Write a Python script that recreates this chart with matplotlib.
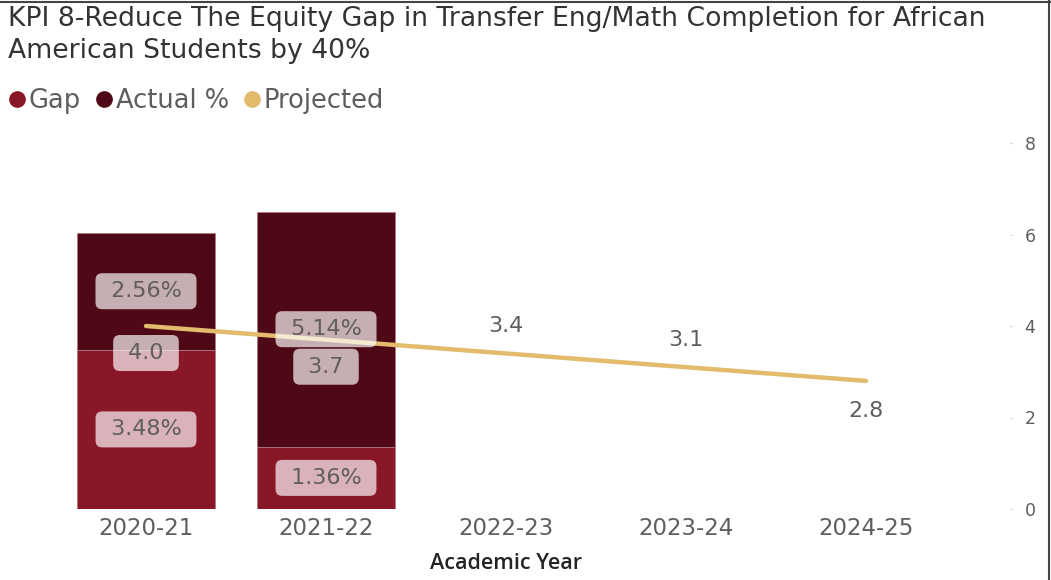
import matplotlib
matplotlib.use("Agg")
import matplotlib.pyplot as plt
from matplotlib.lines import Line2D
import numpy as np

plt.rcParams['font.family'] = ['DejaVu Sans']

years = ["2020-21", "2021-22", "2022-23", "2023-24", "2024-25"]
gap = [3.48, 1.36]
actual = [2.56, 5.14]
projected = [4.0, 3.7, 3.4, 3.1, 2.8]
proj_label_side = ["below", "below", "above", "above", "below"]
proj_label_box = [True, True, False, False, False]
yticks = [0, 2, 4, 6, 8]

C_GAP = "#8A1728"
C_ACT = "#4F0816"
C_PROJ = "#E2BB6C"
C_TXT = "#605E5C"

W, H = 1051, 580
fig = plt.figure(figsize=(W / 100, H / 100), dpi=100)
ax = fig.add_axes([56 / W, 1 - 509 / H, (1010 - 56) / W, (509 - 143) / H])

x = np.arange(len(years))
xb = x[:len(gap)]
bw = 0.77
ax.bar(xb, gap, width=bw, color=C_GAP, edgecolor="#B07A84", linewidth=0.6, zorder=2)
ax.bar(xb, actual, width=bw, bottom=gap, color=C_ACT, edgecolor="#B07A84", linewidth=0.6, zorder=2)
ax.plot(x, projected, color=C_PROJ, lw=3.2, solid_capstyle="round", zorder=3)

box = dict(boxstyle="round,pad=0.36,rounding_size=0.3", facecolor="white", alpha=0.68, edgecolor="none")
LBL = 16
for i in range(len(gap)):
    ax.text(xb[i], gap[i] / 2, f" {gap[i]:.2f}% ", ha="center", va="center",
            fontsize=LBL, color=C_TXT, bbox=box, zorder=5)
    ax.text(xb[i], gap[i] + actual[i] / 2, f" {actual[i]:.2f}% ", ha="center", va="center",
            fontsize=LBL, color=C_TXT, bbox=box, zorder=5)

for i, v in enumerate(projected):
    if proj_label_box[i]:
        txt, bb = f" {v:.1f} ", box
    else:
        txt, bb = f"{v:.1f}", None
    if proj_label_side[i] == "below":
        dy = -27 if proj_label_box[i] else -30
    else:
        dy = 27
    ax.annotate(txt, (x[i], v), xytext=(0, dy), textcoords="offset pixels",
                ha="center", va="center", fontsize=LBL, color=C_TXT, bbox=bb, zorder=6)

ax.set_xlim(-0.5, 4.8)
ax.set_ylim(0, 8)
ax.set_xticks(x)
ax.set_xticklabels(years, fontsize=16.5, color=C_TXT)
ax.yaxis.tick_right()
ax.set_yticks(yticks)
ax.set_yticklabels([str(t) for t in yticks], fontsize=12.5, color=C_TXT)
ax.tick_params(axis="y", length=1.5, width=0.8, color="#C8C8C8", pad=9)
ax.tick_params(axis="x", length=0, pad=6)
for s in ax.spines.values():
    s.set_visible(False)
ax.set_xlabel("Academic Year", fontsize=15.5, color="#252423", fontweight="semibold",
              family=["Open Sans", "DejaVu Sans"])
ax.xaxis.set_label_coords((506 - 56) / (1010 - 56), -(553 - 509) / (509 - 143))

fig.text(8 / W, 1 - 6 / H, "KPI 8-Reduce The Equity Gap in Transfer Eng/Math Completion for African\nAmerican Students by 40%",
         ha="left", va="top", fontsize=19.2, color="#333333", linespacing=1.3)

handles = [Line2D([], [], marker="o", ls="none", color=c, markersize=11)
           for c in (C_GAP, C_ACT, C_PROJ)]
leg = fig.legend(handles, ["Gap", "Actual %", "Projected"], loc="center left",
                 bbox_to_anchor=(2 / W, 1 - 101 / H), ncol=3, frameon=False, fontsize=18.5,
                 handletextpad=-0.15, columnspacing=0.3, handlelength=1.2, borderaxespad=0,
                 borderpad=0)
for t in leg.get_texts():
    t.set_color(C_TXT)

fig.add_artist(Line2D([0, 1], [1 - 1.5 / H, 1 - 1.5 / H], color="#444444", lw=1.5))
fig.add_artist(Line2D([1 - 2.5 / W, 1 - 2.5 / W], [0, 1], color="#444444", lw=1.5))

fig.savefig("out.png", dpi=100)
